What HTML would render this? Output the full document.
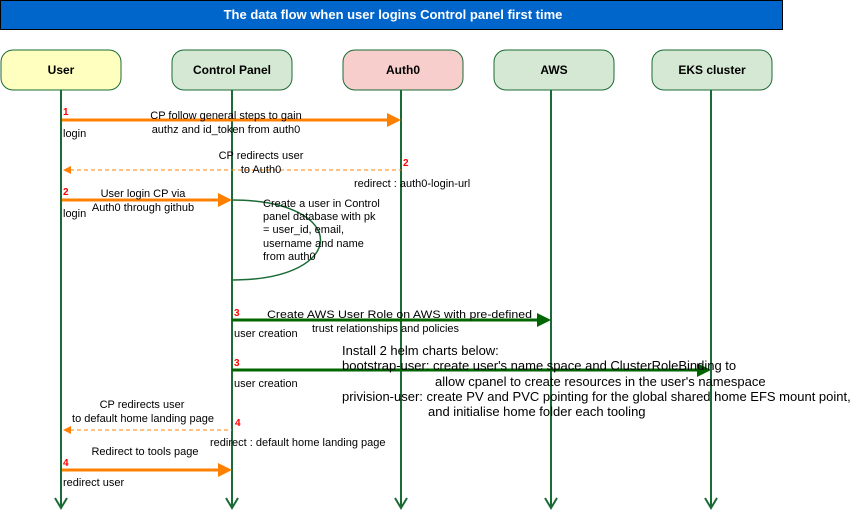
<!DOCTYPE html>
<html><head><meta charset="utf-8"><style>
body{margin:0;background:#fff;}
svg{display:block;font-family:"Liberation Sans",Arial,sans-serif;}
</style></head><body>
<svg width="856" height="522" viewBox="0 0 856 522" xmlns="http://www.w3.org/2000/svg">
<rect x="0.5" y="0.5" width="782" height="29" fill="#0066cc" stroke="#000"/>
<text x="393" y="19" text-anchor="middle" font-size="13" font-weight="bold" fill="#fff">The data flow when user logins  Control panel first time</text>

<g stroke="#1a6b35" stroke-width="2" fill="none">
<line x1="61" y1="90" x2="61" y2="508"/><polyline points="55,498 61,508 67,498"/>
<line x1="232" y1="90" x2="232" y2="508"/><polyline points="226,498 232,508 238,498"/>
<line x1="401" y1="90" x2="401" y2="508"/><polyline points="395,498 401,508 407,498"/>
<line x1="551" y1="90" x2="551" y2="508"/><polyline points="545,498 551,508 557,498"/>
<line x1="711" y1="90" x2="711" y2="508"/><polyline points="705,498 711,508 717,498"/>
</g>
<g stroke="#1a6b35" stroke-width="1">
<rect x="1" y="50" width="120" height="40" rx="12" fill="#ffffc0"/>
<rect x="172" y="50" width="120" height="40" rx="12" fill="#d5e8d4"/>
<rect x="343" y="50" width="120" height="40" rx="12" fill="#f8cecc"/>
<rect x="494" y="50" width="120" height="40" rx="12" fill="#d5e8d4"/>
<rect x="652" y="50" width="120" height="40" rx="12" fill="#d5e8d4"/>
</g>
<g font-size="12" font-weight="bold" text-anchor="middle" fill="#000">
<text x="61" y="74">User</text><text x="232" y="74">Control Panel</text><text x="403" y="74">Auth0</text><text x="554" y="74">AWS</text><text x="712" y="74">EKS cluster</text>
</g>

<line x1="62" y1="120" x2="388" y2="120" stroke="#ff8000" stroke-width="3"/>
<polygon points="387,113 401,120 387,127" fill="#ff8000"/>
<line x1="70" y1="170" x2="401" y2="170" stroke="#ff8000" stroke-width="1" stroke-dasharray="4,3"/>
<polygon points="63,170 71,166 71,174" fill="#ff8000"/>
<line x1="62" y1="200" x2="219" y2="200" stroke="#ff8000" stroke-width="3"/>
<polygon points="218,193 232,200 218,207" fill="#ff8000"/>
<path d="M232,200 C350,200 350,280 232,280" fill="none" stroke="#1a6b35" stroke-width="1.5"/>
<line x1="232" y1="320" x2="538" y2="320" stroke="#006600" stroke-width="3"/>
<polygon points="537,313 551,320 537,327" fill="#006600"/>
<line x1="232" y1="370" x2="698" y2="370" stroke="#006600" stroke-width="3"/>
<polygon points="697,363 711,370 697,377" fill="#006600"/>
<line x1="70" y1="430" x2="232" y2="430" stroke="#ff8000" stroke-width="1" stroke-dasharray="4,3"/>
<polygon points="63,430 71,426 71,434" fill="#ff8000"/>
<line x1="62" y1="470" x2="219" y2="470" stroke="#ff8000" stroke-width="3"/>
<polygon points="218,463 232,470 218,477" fill="#ff8000"/>

<g font-size="11" fill="#000">
<text x="226" y="119" text-anchor="middle">CP follow general steps to gain</text>
<text x="226" y="133" text-anchor="middle">authz and id_token from auth0</text>
<text x="63" y="137">login</text>
<text x="261" y="159" text-anchor="middle">CP redirects user</text>
<text x="261" y="173" text-anchor="middle">to Auth0</text>
<text x="354" y="187">redirect : auth0-login-url</text>
<text x="143" y="197" text-anchor="middle">User login CP via</text>
<text x="143" y="211" text-anchor="middle">Auth0 through github</text>
<text x="63" y="217">login</text>
<text x="263" y="207">Create a user in Control</text>
<text x="263" y="220">panel database with pk</text>
<text x="263" y="233">= user_id, email,</text>
<text x="263" y="247">username and name</text>
<text x="263" y="260">from auth0</text>
<text x="234" y="337">user creation</text>
<text x="234" y="387">user creation</text>
<text x="142" y="408" text-anchor="middle">CP redirects user</text>
<text x="143" y="422" text-anchor="middle">to default home landing page</text>
<text x="210" y="446">redirect : default home landing page</text>
<text x="145" y="455" text-anchor="middle">Redirect to tools page</text>
<text x="63" y="486">redirect user</text>
<text x="267" y="318" textLength="265" lengthAdjust="spacingAndGlyphs">Create AWS User Role on AWS with pre-defined</text>
<text x="312" y="332" textLength="147" lengthAdjust="spacingAndGlyphs">trust relationships and policies</text>
</g>
<g font-size="13" fill="#000">
<text x="342" y="355">Install 2 helm charts below:</text>
<text x="342" y="370">bootstrap-user: create user's name space and ClusterRoleBinding to</text>
<text x="435" y="386">allow cpanel to create resources in the user's namespace</text>
<text x="342" y="401">privision-user: create PV and PVC pointing for the global shared home EFS mount point,</text>
<text x="428" y="416">and initialise home folder each tooling</text>
</g>
<g font-size="10" font-weight="bold" fill="#ff0000">
<text x="63" y="115">1</text><text x="403" y="166">2</text><text x="63" y="195">2</text>
<text x="234" y="316">3</text><text x="234" y="366">3</text><text x="235" y="426">4</text><text x="63" y="466">4</text>
</g>
</svg>
</body></html>
